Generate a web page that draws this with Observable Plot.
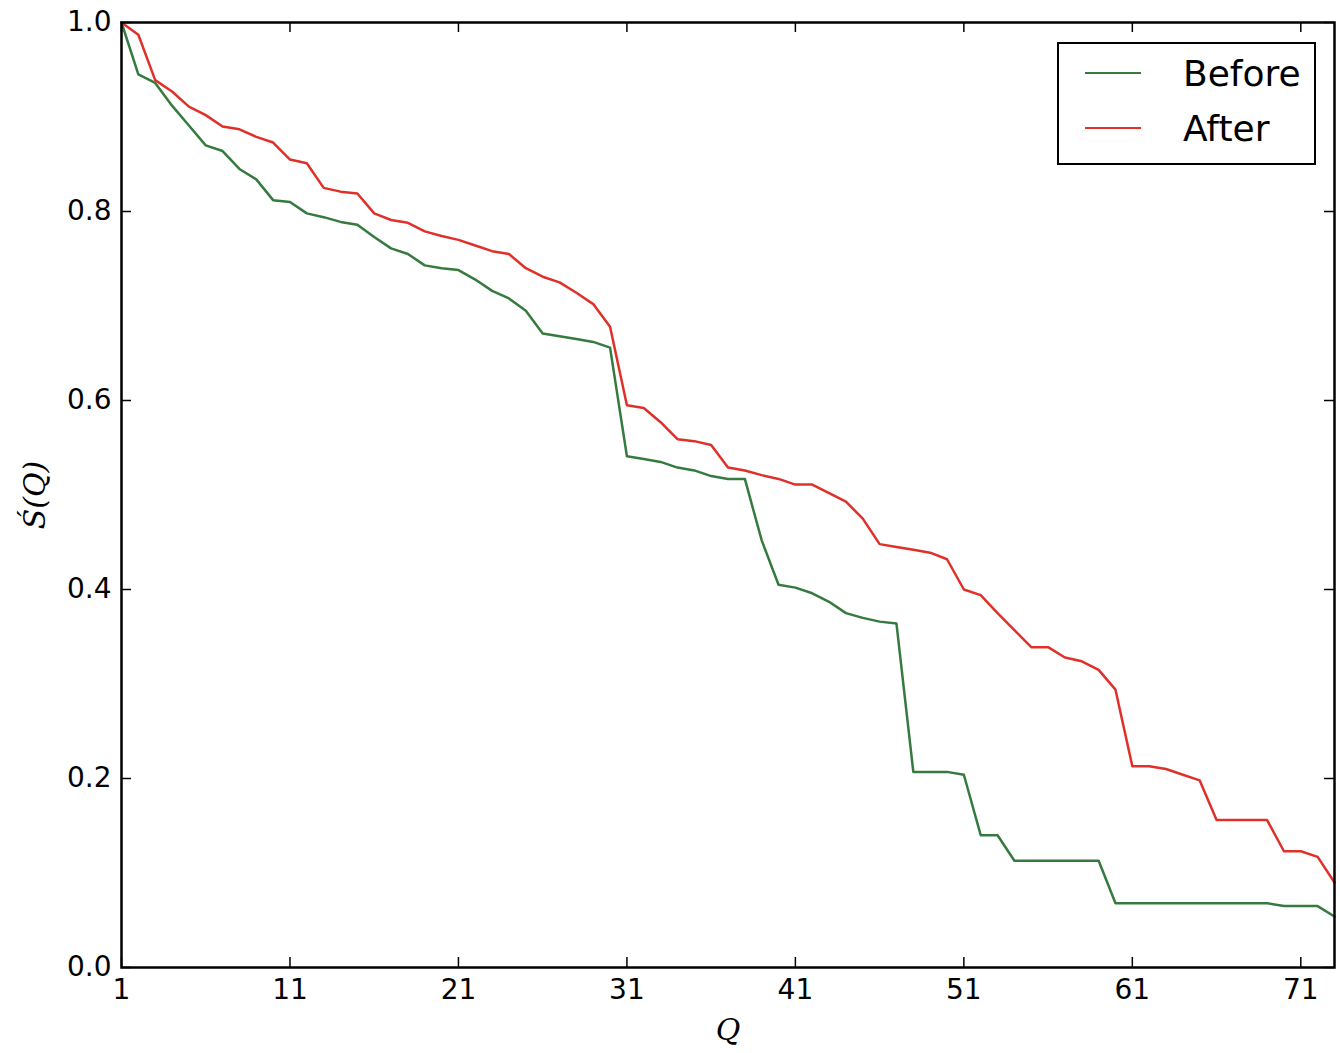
<!DOCTYPE html>
<html>
<head>
<meta charset="utf-8">
<script src="https://cdn.jsdelivr.net/npm/d3@7"></script>
<script src="https://cdn.jsdelivr.net/npm/@observablehq/plot@0.6"></script>
<style>
  body { margin: 0; background: #fff; }
  #wrap { position: relative; width: 1340px; }
  #legend { position: absolute; left: 1057px; top: 42px; width: 255px; height: 119px;
    border: 2px solid #000; background: #fff; font-family: "DejaVu Sans", sans-serif; font-size: 36px; }
  .row { position: absolute; left: 26px; height: 40px; display: flex; align-items: center; }
  .sw { width: 56px; height: 2.5px; margin-right: 42px; }
</style>
</head>
<body>
<div id="wrap">
  <div id="chart"></div>
  <div id="legend">
    <div class="row" style="top:9px"><div class="sw" style="background:#357a3f"></div>Before</div>
    <div class="row" style="top:64px"><div class="sw" style="background:#e0302a"></div>After</div>
  </div>
</div>
<script>
const before = [1.0,0.945,0.936,0.912,0.891,0.870,0.864,0.845,0.834,0.812,0.810,0.798,0.794,0.789,0.786,0.773,0.761,0.755,0.743,0.740,
  0.738,0.728,0.716,0.708,0.695,0.671,0.668,0.665,0.662,0.656,0.541,0.538,0.535,0.529,0.526,0.520,0.517,0.517,0.452,0.405,
  0.402,0.396,0.387,0.375,0.370,0.366,0.364,0.207,0.207,0.207,0.204,0.140,0.140,0.113,0.113,0.113,0.113,0.113,0.113,0.068,
  0.068,0.068,0.068,0.068,0.068,0.068,0.068,0.068,0.068,0.065,0.065,0.065,0.054];
const after = [1.0,0.987,0.939,0.927,0.911,0.902,0.890,0.887,0.879,0.873,0.855,0.851,0.825,0.821,0.819,0.798,0.791,0.788,0.779,0.774,
  0.770,0.764,0.758,0.755,0.740,0.731,0.725,0.714,0.702,0.678,0.595,0.592,0.577,0.559,0.557,0.553,0.529,0.526,0.521,0.517,
  0.511,0.511,0.502,0.493,0.475,0.448,0.445,0.442,0.439,0.432,0.400,0.394,0.375,0.357,0.339,0.339,0.328,0.324,0.315,0.294,
  0.213,0.213,0.210,0.204,0.198,0.156,0.156,0.156,0.156,0.123,0.123,0.117,0.090];
const xTicks = [1,11,21,31,41,51,61,71];
const yTicks = [0,0.2,0.4,0.6,0.8,1.0];

const rows = before.map((v,i) => ({q: i+1, before: v, after: after[i]}));
const tl = 10/945, txl = 10/16.8;

const chart = Plot.plot({
  width: 1340, height: 1053,
  marginLeft: 121, marginRight: 6, marginTop: 22, marginBottom: 86,
  style: {fontFamily: "DejaVu Sans, sans-serif", fontSize: "28px", color: "#000", background: "#fff"},
  x: {domain: [1,73]},
  y: {domain: [0,1]},
  marks: [
    Plot.line(rows, {x: "q", y: "before", stroke: "#357a3f", strokeWidth: 2.5}),
    Plot.line(rows, {x: "q", y: "after", stroke: "#e0302a", strokeWidth: 2.5}),
    Plot.ruleX(xTicks, {x: d => d, y1: 0, y2: tl, stroke: "#000", strokeWidth: 1.5}),
    Plot.ruleX(xTicks, {x: d => d, y1: 1, y2: 1 - tl, stroke: "#000", strokeWidth: 1.5}),
    Plot.ruleY(yTicks, {y: d => d, x1: 1, x2: 1 + txl, stroke: "#000", strokeWidth: 1.5}),
    Plot.ruleY(yTicks, {y: d => d, x1: 73, x2: 73 - txl, stroke: "#000", strokeWidth: 1.5}),
    Plot.axisX(xTicks, {tickSize: 0, tickPadding: 12, label: null, fontSize: 28}),
    Plot.axisY(yTicks, {tickSize: 0, tickPadding: 10, label: null, fontSize: 28, tickFormat: d3.format(".1f")}),
    Plot.frame({stroke: "#000", strokeWidth: 2.5}),
    Plot.text(["Q"], {frameAnchor: "bottom", dy: 72, fontStyle: "italic", fontFamily: "DejaVu Serif", fontSize: 30}),
    Plot.text(["\u015A(Q)"], {frameAnchor: "left", textAnchor: "middle", dx: -86, rotate: -90, fontStyle: "italic", fontFamily: "DejaVu Serif", fontSize: 30})
  ]
});
document.getElementById("chart").append(chart);
</script>
</body>
</html>
